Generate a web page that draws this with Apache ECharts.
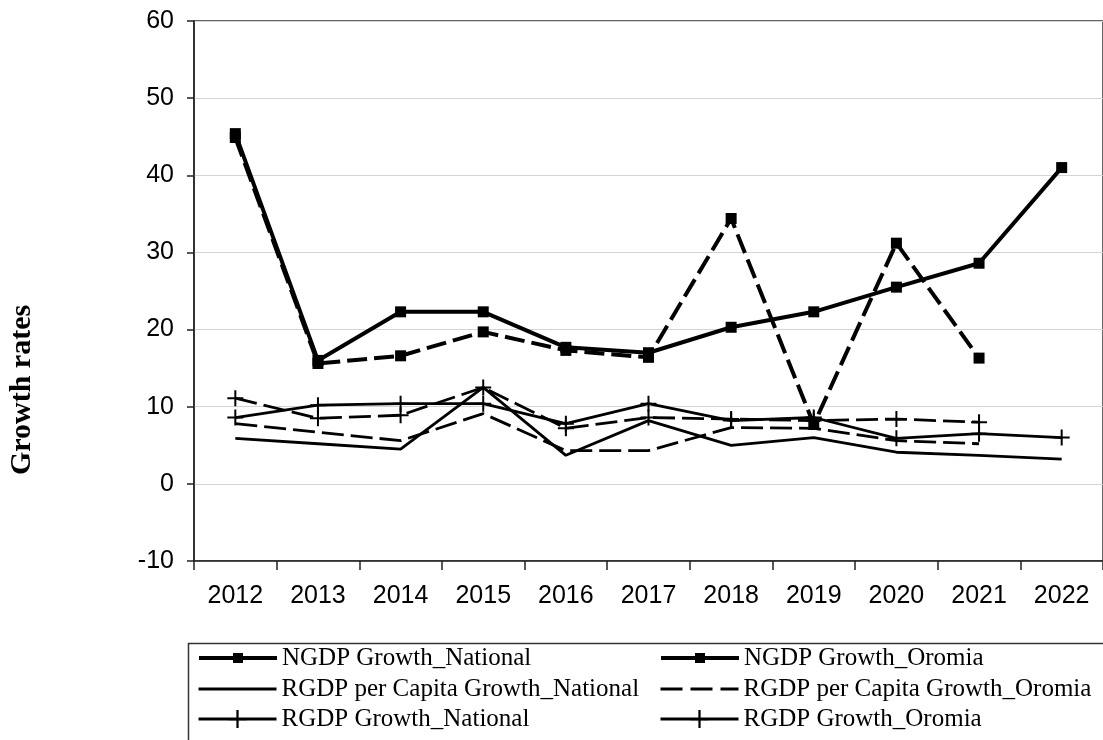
<!DOCTYPE html>
<html>
<head>
<meta charset="utf-8">
<script src="https://cdn.jsdelivr.net/npm/echarts@6/dist/echarts.min.js"></script>
<style>
  html, body { margin: 0; padding: 0; background: #fff; }
  #chart { width: 1103px; height: 740px; }
</style>
</head>
<body>
<div id="chart"></div>
<script>
// Years on the category axis
const years = ['2012', '2013', '2014', '2015', '2016', '2017', '2018', '2019', '2020', '2021', '2022'];

// Growth rates (%) by series
const ngdpNational   = [45.4, 16.0, 22.3, 22.3, 17.7, 17.0, 20.3, 22.3, 25.5, 28.6, 41.0];
const ngdpOromia     = [44.9, 15.6, 16.6, 19.7, 17.3, 16.4, 34.4, 7.7, 31.2, 16.3, null];
const rgdpPcNational = [5.9, 5.2, 4.5, 12.5, 3.7, 8.2, 5.0, 6.0, 4.1, 3.7, 3.2];
const rgdpPcOromia   = [7.8, 6.7, 5.6, 9.1, 4.3, 4.3, 7.3, 7.2, 5.6, 5.2, null];
const rgdpNational   = [8.6, 10.2, 10.4, 10.4, 7.8, 10.4, 8.2, 8.6, 5.9, 6.5, 6.0];
const rgdpOromia     = [11.1, 8.5, 8.9, 12.5, 7.2, 8.6, 8.4, 8.2, 8.4, 8.0, null];

// Value-axis ticks
const yMin = -10, yMax = 60, yStep = 10;

const names = {
  ngdpN: 'NGDP Growth_National',
  ngdpO: 'NGDP Growth_Oromia',
  pcN: 'RGDP per Capita Growth_National',
  pcO: 'RGDP per Capita Growth_Oromia',
  rgN: 'RGDP Growth_National',
  rgO: 'RGDP Growth_Oromia'
};

// Plus-shaped marker
const plusPath = 'path://M-1,-8 L1,-8 L1,-1 L8,-1 L8,1 L1,1 L1,8 L-1,8 L-1,1 L-8,1 L-8,-1 L-1,-1 Z';

function lineSeries(name, data, opts) {
  return Object.assign({
    name: name,
    type: 'line',
    data: data,
    connectNulls: false,
    animation: false,
    z: 3,
    itemStyle: { color: '#000' },
    lineStyle: { color: '#000', width: 2.8, type: 'solid' },
    symbol: 'none',
    showSymbol: true
  }, opts);
}

const series = [
  lineSeries(names.ngdpN, ngdpNational, {
    symbol: 'rect', symbolSize: 11,
    lineStyle: { color: '#000', width: 4, type: 'solid' }
  }),
  lineSeries(names.ngdpO, ngdpOromia, {
    symbol: 'rect', symbolSize: 11,
    lineStyle: { color: '#000', width: 4, type: [20, 7] }
  }),
  lineSeries(names.pcN, rgdpPcNational, {
    lineStyle: { color: '#000', width: 2.8, type: 'solid' }
  }),
  lineSeries(names.pcO, rgdpPcOromia, {
    lineStyle: { color: '#000', width: 2.8, type: [22, 7] }
  }),
  lineSeries(names.rgN, rgdpNational, {
    symbol: plusPath, symbolSize: 16,
    lineStyle: { color: '#000', width: 2.8, type: 'solid' }
  }),
  lineSeries(names.rgO, rgdpOromia, {
    symbol: plusPath, symbolSize: 16,
    lineStyle: { color: '#000', width: 2.8, type: [22, 7] }
  })
];

const legendText = {
  fontFamily: '"Liberation Serif", "Times New Roman", serif',
  fontSize: 25,
  color: '#000'
};

// One legend entry per block so each row can size its own marker
function legendEntry(left, centerY, name, markerSize, lineWidth, lineType, hideMarker) {
  const item = { name: name, lineStyle: { type: lineType, width: lineWidth } };
  if (hideMarker) {
    item.itemStyle = { color: 'rgba(0,0,0,0)', borderWidth: 0, opacity: 0 };
  }
  const h = markerSize / 0.8;
  return {
    orient: 'vertical',
    left: left,
    top: centerY - 14,
    itemWidth: 78,
    itemHeight: h,
    itemGap: 0,
    padding: 0,
    selectedMode: false,
    textStyle: Object.assign({ lineHeight: 28 }, legendText),
    data: [item]
  };
}

const rowY = [658, 689, 719];

const chart = echarts.init(document.getElementById('chart'), null, { renderer: 'canvas' });

chart.setOption({
  backgroundColor: '#fff',
  animation: false,
  grid: {
    left: 194,
    right: -2,
    top: 21,
    bottom: 179,
    show: true,
    borderColor: '#333',
    borderWidth: 1.5,
    backgroundColor: 'transparent'
  },
  xAxis: {
    type: 'category',
    data: years,
    boundaryGap: true,
    axisLine: { onZero: false, lineStyle: { color: '#222', width: 1.5 } },
    axisTick: { show: true, length: 9, inside: false, alignWithLabel: false, lineStyle: { color: '#222', width: 1.5 } },
    axisLabel: { color: '#000', fontFamily: '"Liberation Sans", Arial, sans-serif', fontSize: 25, margin: 23 },
    splitLine: { show: false }
  },
  yAxis: {
    type: 'value',
    min: yMin,
    max: yMax,
    interval: yStep,
    axisLine: { show: true, lineStyle: { color: '#222', width: 1.5 } },
    axisTick: { show: true, length: 7, inside: false, lineStyle: { color: '#222', width: 1.5 } },
    axisLabel: { color: '#000', fontFamily: '"Liberation Sans", Arial, sans-serif', fontSize: 25, margin: 20 },
    splitLine: { show: true, lineStyle: { color: '#d4d4d4', width: 1.2 } }
  },
  legend: [
    legendEntry(197, rowY[0], names.ngdpN, 10, 4, 'solid', false),
    legendEntry(197, rowY[1], names.pcN, 10, 3, 'solid', true),
    legendEntry(197, rowY[2], names.rgN, 18, 3, 'solid', false),
    legendEntry(659, rowY[0], names.ngdpO, 10, 4, 'solid', false),
    legendEntry(659, rowY[1], names.pcO, 10, 3, [22, 8], true),
    legendEntry(659, rowY[2], names.rgO, 18, 3, 'solid', false)
  ],
  graphic: [
    {
      type: 'rect',
      left: 186, top: 641,
      shape: { width: 1000, height: 120 },
      style: { fill: 'none', stroke: '#333', lineWidth: 1.5 },
      z: 0
    },
    {
      type: 'text',
      x: 22, y: 390,
      rotation: Math.PI / 2,
      style: {
        text: 'Growth rates',
        x: 0, y: 0,
        fontFamily: '"Liberation Serif", "Times New Roman", serif',
        fontWeight: 'bold',
        fontSize: 30,
        fill: '#000',
        align: 'center',
        verticalAlign: 'middle'
      }
    }
  ],
  series: series
});
</script>
</body>
</html>
